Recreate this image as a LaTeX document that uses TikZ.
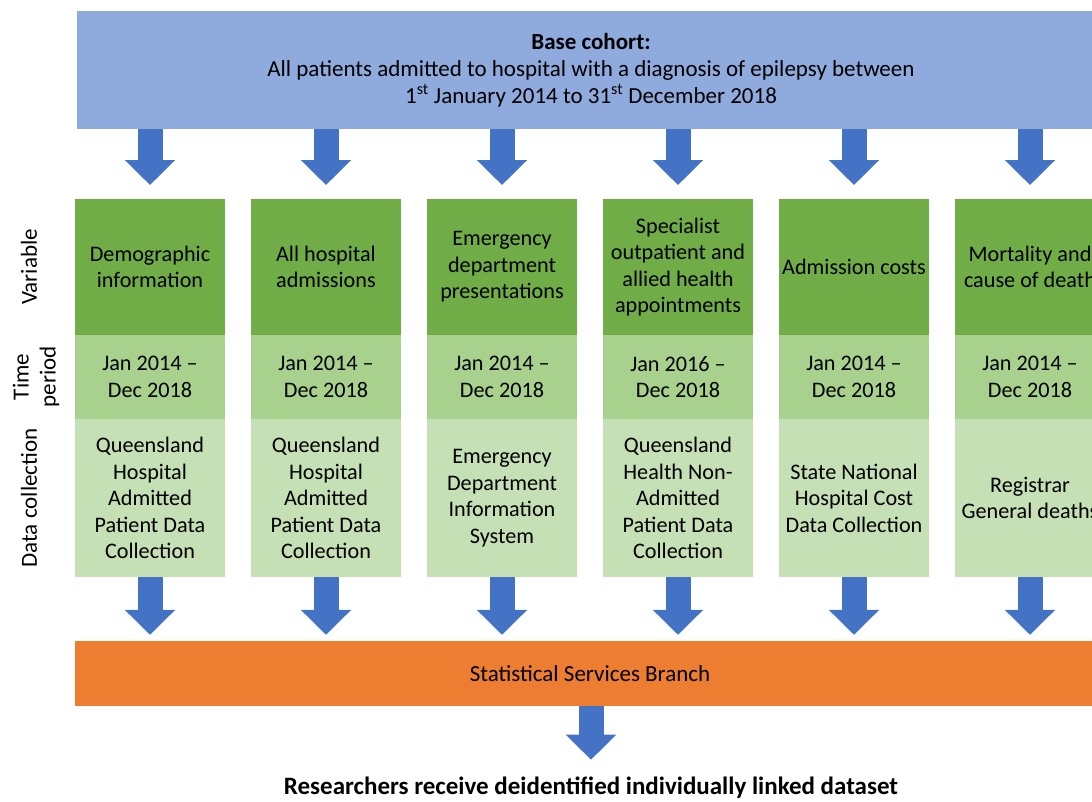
\documentclass[tikz,border=0pt]{standalone}
\usepackage{fontspec}
\setmainfont{Carlito}
\usetikzlibrary{positioning, arrows.meta}

\definecolor{cohortblue}{HTML}{8FAADC}
\definecolor{arrowblue}{HTML}{4472C4}
\definecolor{vargreen}{HTML}{70AD47}
\definecolor{timegreen}{HTML}{A9D18E}
\definecolor{datagreen}{HTML}{C5E0B4}
\definecolor{branchorange}{HTML}{ED7D31}

\begin{document}
\begin{tikzpicture}[x=1pt, y=-1pt, node distance=26pt]

% Define styles
\tikzstyle{txt} = [font=\fontsize{23}{27}\selectfont]
\tikzstyle{cell} = [rectangle, font=\fontsize{22.2}{26.5}\selectfont, inner xsep=0pt, inner ysep=2pt,
    outer sep=0pt, minimum width=150pt, align=center]
\tikzstyle{varbox} = [cell, fill=vargreen, minimum height=136pt]
\tikzstyle{timebox} = [cell, fill=timegreen, minimum height=84pt]
\tikzstyle{databox} = [cell, fill=datagreen, minimum height=158pt]
\tikzstyle{rowlabel} = [txt, rotate=90, align=center]
\tikzstyle{fatarrow} = [draw=arrowblue, line width=25pt, -{Triangle[width=49pt, length=25pt]}]

\useasboundingbox (0,0) rectangle (1092,801);
\clip (0,0) rectangle (1092,801);

% Base cohort banner
\node [txt, fill=cohortblue, minimum width=1028pt, minimum height=118pt, align=center] (cohort) at (591,70)
    {\textbf{Base cohort:}\\All patients admitted to hospital with a diagnosis of epilepsy between\\
     1\textsuperscript{st} January 2014 to 31\textsuperscript{st} December 2018};

% Variables
\node [varbox] (var1) at (150,267) {Demographic\\information};
\node [varbox, right=of var1] (var2) {All hospital\\admissions};
\node [varbox, right=of var2] (var3) {Emergency\\department\\presentations};
\node [varbox, right=of var3] (var4) {Specialist\\outpatient and\\allied health\\appointments};
\node [varbox, right=of var4] (var5) {Admission costs};
\node [varbox, right=of var5] (var6) {Mortality and\\cause of death};

% Time periods
\node [timebox, below=0pt of var1] (time1) {Jan 2014 --\\Dec 2018};
\node [timebox, below=0pt of var2] (time2) {Jan 2014 --\\Dec 2018};
\node [timebox, below=0pt of var3] (time3) {Jan 2014 --\\Dec 2018};
\node [timebox, below=0pt of var4] (time4) {Jan 2016 --\\Dec 2018};
\node [timebox, below=0pt of var5] (time5) {Jan 2014 --\\Dec 2018};
\node [timebox, below=0pt of var6] (time6) {Jan 2014 --\\Dec 2018};

% Data collections
\node [databox, below=0pt of time1] (data1) {Queensland\\Hospital\\Admitted\\Patient Data\\Collection};
\node [databox, below=0pt of time2] (data2) {Queensland\\Hospital\\Admitted\\Patient Data\\Collection};
\node [databox, below=0pt of time3] (data3) {Emergency\\Department\\Information\\System};
\node [databox, below=0pt of time4] (data4) {Queensland\\Health Non-\\Admitted\\Patient Data\\Collection};
\node [databox, below=0pt of time5] (data5) {State National\\Hospital Cost\\Data Collection};
\node [databox, below=0pt of time6] (data6) {Registrar\\General deaths};

% Row labels
\node [rowlabel] (lblvar) at (29,267) {Variable};
\node [rowlabel] (lbltime) at (36,377) {Time\\period};
\node [rowlabel] (lbldata) at (29,498) {Data collection};

% Linkage and output
\node [txt, fill=branchorange, minimum width=1030pt, minimum height=65pt] (branch) at (590,673.5) {Statistical Services Branch};
\node [font=\bfseries\fontsize{25}{30}\selectfont] (result) at (591,788) {Researchers receive deidentified individually linked dataset};

% Draw edges
\path [fatarrow] (cohort.south -| var1) -- ([yshift=14pt]var1.north);
\path [fatarrow] (cohort.south -| var2) -- ([yshift=14pt]var2.north);
\path [fatarrow] (cohort.south -| var3) -- ([yshift=14pt]var3.north);
\path [fatarrow] (cohort.south -| var4) -- ([yshift=14pt]var4.north);
\path [fatarrow] (cohort.south -| var5) -- ([yshift=14pt]var5.north);
\path [fatarrow] (cohort.south -| var6) -- ([yshift=14pt]var6.north);
\path [fatarrow, shorten >=6pt] (data1.south) -- (data1.south |- branch.north);
\path [fatarrow, shorten >=6pt] (data2.south) -- (data2.south |- branch.north);
\path [fatarrow, shorten >=6pt] (data3.south) -- (data3.south |- branch.north);
\path [fatarrow, shorten >=6pt] (data4.south) -- (data4.south |- branch.north);
\path [fatarrow, shorten >=6pt] (data5.south) -- (data5.south |- branch.north);
\path [fatarrow, shorten >=6pt] (data6.south) -- (data6.south |- branch.north);
\path [fatarrow, shorten >=14pt] (branch.south -| result) -- (result.north);

\end{tikzpicture}
\end{document}
